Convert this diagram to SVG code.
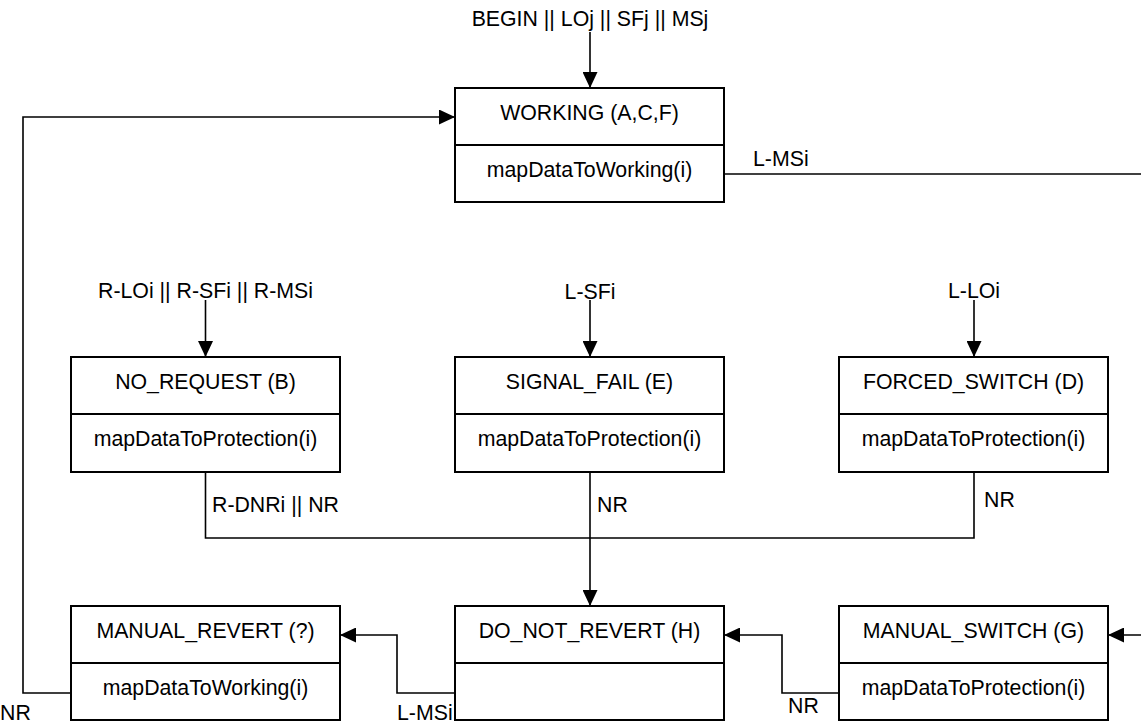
<svg xmlns="http://www.w3.org/2000/svg" width="1141" height="724" viewBox="0 0 1141 724">
<style>
.box{fill:#fff;stroke:#000;stroke-width:2}
.div{stroke:#000;stroke-width:2}
.t{font-family:"Liberation Sans",Arial,sans-serif;font-size:21.3px;fill:#000;text-anchor:middle}
.l{font-family:"Liberation Sans",Arial,sans-serif;font-size:21.3px;fill:#000}
.c{fill:none;stroke:#000;stroke-width:1.6}
.a{fill:none;stroke:#000;stroke-width:1.6;marker-end:url(#ah)}
</style>
<defs>
<marker id="ah" markerUnits="userSpaceOnUse" markerWidth="16" markerHeight="15" refX="16" refY="7.5" orient="auto">
<path d="M0,0 L16,7.5 L0,15 Z" fill="#000"/>
</marker>
</defs>
<rect width="1141" height="724" fill="#fff"/>
<g id="connectors">
<path class="a" d="M590,32 V88"/>
<path class="a" d="M71,693 H23 V117 H455"/>
<path d="M724,174 H1141" fill="none" stroke="#000" stroke-width="1.3"/>
<path class="a" d="M205.5,300 V357"/>
<path class="a" d="M590,300 V357"/>
<path class="a" d="M974,300 V357"/>
<path class="c" d="M205.5,472 V538 H974 V472"/>
<path class="a" d="M590,472 V606"/>
<path class="a" d="M455,693 H397 V635 H340"/>
<path class="a" d="M839,693 H782 V635 H724"/>
<path class="a" d="M1141,635 H1108"/>
</g>
<g id="labels">
<text class="t" x="590" y="26">BEGIN || LOj || SFj || MSj</text>
<text class="l" x="753" y="166">L-MSi</text>
<text class="t" x="205.5" y="298">R-LOi || R-SFi || R-MSi</text>
<text class="t" x="590" y="299">L-SFi</text>
<text class="t" x="974" y="298">L-LOi</text>
<text class="l" x="212" y="512">R-DNRi || NR</text>
<text class="l" x="597" y="512">NR</text>
<text class="l" x="984" y="507">NR</text>
<text class="l" x="0" y="720">NR</text>
<text class="l" x="397" y="720">L-MSi</text>
<text class="l" x="788" y="713">NR</text>
</g>
<g id="working">
<rect class="box" x="455" y="88" width="269" height="114"/>
<line class="div" x1="455" y1="145" x2="724" y2="145"/>
<text class="t" x="589.5" y="120">WORKING (A,C,F)</text>
<text class="t" x="589.5" y="177">mapDataToWorking(i)</text>
</g>
<g id="no_request">
<rect class="box" x="71" y="357" width="269" height="115"/>
<line class="div" x1="71" y1="414" x2="340" y2="414"/>
<text class="t" x="205.5" y="389">NO_REQUEST (B)</text>
<text class="t" x="205.5" y="446">mapDataToProtection(i)</text>
</g>
<g id="signal_fail">
<rect class="box" x="455" y="357" width="269" height="115"/>
<line class="div" x1="455" y1="414" x2="724" y2="414"/>
<text class="t" x="589.5" y="389">SIGNAL_FAIL (E)</text>
<text class="t" x="589.5" y="446">mapDataToProtection(i)</text>
</g>
<g id="forced_switch">
<rect class="box" x="839" y="357" width="269" height="115"/>
<line class="div" x1="839" y1="414" x2="1108" y2="414"/>
<text class="t" x="973.5" y="389">FORCED_SWITCH (D)</text>
<text class="t" x="973.5" y="446">mapDataToProtection(i)</text>
</g>
<g id="manual_revert">
<rect class="box" x="71" y="606" width="269" height="114"/>
<line class="div" x1="71" y1="663" x2="340" y2="663"/>
<text class="t" x="205.5" y="638">MANUAL_REVERT (?)</text>
<text class="t" x="205.5" y="695">mapDataToWorking(i)</text>
</g>
<g id="do_not_revert">
<rect class="box" x="455" y="606" width="269" height="114"/>
<line class="div" x1="455" y1="663" x2="724" y2="663"/>
<text class="t" x="589.5" y="638">DO_NOT_REVERT (H)</text>
</g>
<g id="manual_switch">
<rect class="box" x="839" y="606" width="269" height="114"/>
<line class="div" x1="839" y1="663" x2="1108" y2="663"/>
<text class="t" x="973.5" y="638">MANUAL_SWITCH (G)</text>
<text class="t" x="973.5" y="695">mapDataToProtection(i)</text>
</g>
</svg>
